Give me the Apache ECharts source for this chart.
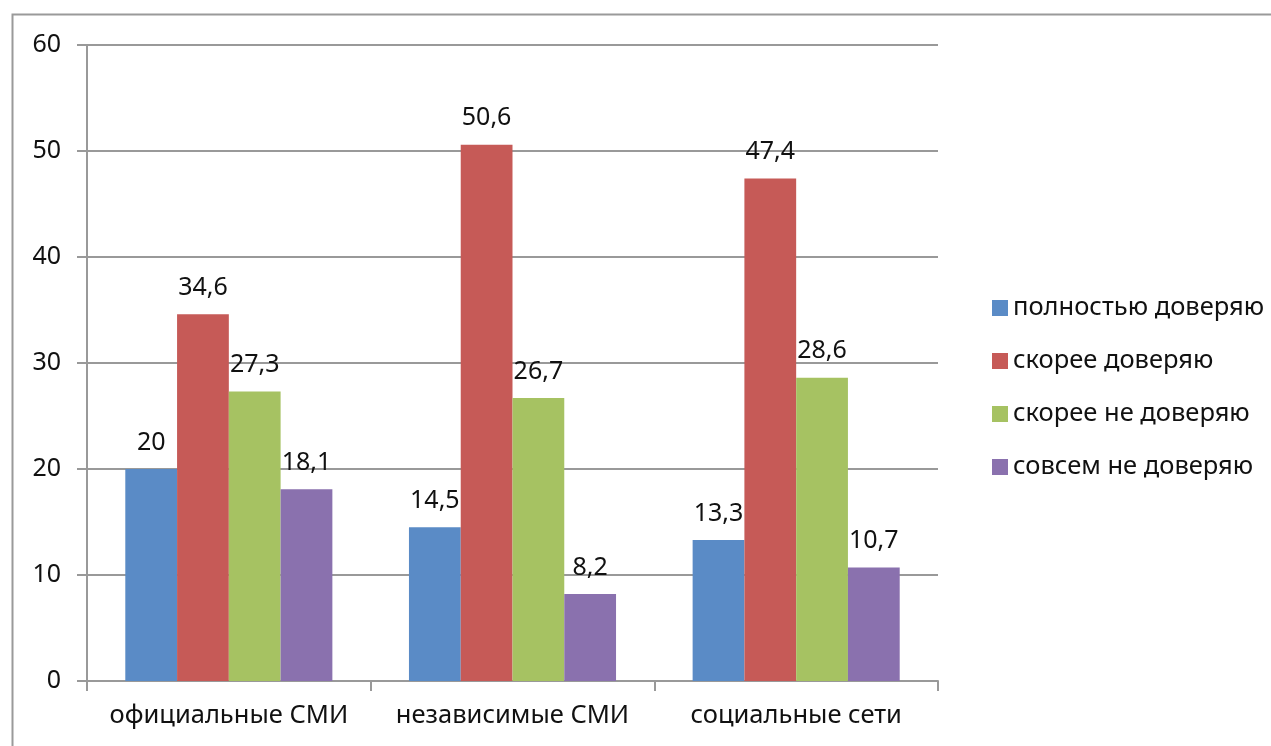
<!DOCTYPE html>
<html lang="ru">
<head>
    <meta charset="UTF-8">
    <title>Доверие СМИ</title>
    <script src="https://cdn.jsdelivr.net/npm/echarts@6.0.0/dist/echarts.min.js"></script>
    <style>
        html, body { margin: 0; padding: 0; background: #fff; }
        #main { width: 1271px; height: 746px; }
    </style>
</head>
<body>
<div id="main"></div>
<script type="text/javascript">
    // data
    const categories = ['официальные СМИ', 'независимые СМИ', 'социальные сети']
    const seriesNames = ['полностью доверяю', 'скорее доверяю', 'скорее не доверяю', 'совсем не доверяю']
    const fullyTrust = [20, 14.5, 13.3]
    const ratherTrust = [34.6, 50.6, 47.4]
    const ratherDistrust = [27.3, 26.7, 28.6]
    const totallyDistrust = [18.1, 8.2, 10.7]
    const colors = ['#5A8BC6', '#C65A57', '#A6C262', '#8A71AE']

    const values = [fullyTrust, ratherTrust, ratherDistrust, totallyDistrust]
    const font = 'Noto Sans, sans-serif'

    var chart = echarts.init(document.getElementById('main'))

    const series = seriesNames.map((name, i) => ({
        name: name,
        type: 'bar',
        data: values[i],
        barGap: '0%',
        barCategoryGap: '27%',
        itemStyle: { color: colors[i] },
        label: {
            show: true,
            position: 'top',
            distance: 14,
            color: '#111',
            fontSize: 25,
            fontFamily: font,
            formatter: p => String(p.value).replace('.', ',')
        }
    }))

    var option = {
        animation: false,
        backgroundColor: '#fff',
        graphic: [{
            type: 'rect',
            left: 10, top: 12,
            shape: { width: 1400, height: 900 },
            style: { fill: 'none', stroke: '#9a9a9a', lineWidth: 2 },
            silent: true
        }],
        grid: { left: 87, right: 333, top: 45, bottom: 65 },
        legend: {
            orient: 'vertical',
            left: 987,
            top: 290,
            itemWidth: 16,
            itemHeight: 16,
            itemGap: 27,
            icon: 'rect',
            textStyle: { fontSize: 25.5, fontFamily: font, color: '#111', lineHeight: 26 },
            data: seriesNames
        },
        xAxis: {
            type: 'category',
            data: categories,
            axisLine: { lineStyle: { color: '#999', width: 2 } },
            axisTick: { show: true, length: 10, lineStyle: { color: '#999', width: 2 } },
            axisLabel: { interval: 0, hideOverlap: false, fontSize: 25.5, fontFamily: font, color: '#111', margin: 22 }
        },
        yAxis: {
            type: 'value',
            min: 0, max: 60, interval: 10,
            axisLine: { show: true, lineStyle: { color: '#999', width: 2 } },
            axisTick: { show: true, length: 10, lineStyle: { color: '#999', width: 2 } },
            splitLine: { lineStyle: { color: '#999', width: 2 } },
            axisLabel: { fontSize: 25, fontFamily: font, color: '#111', margin: 26 }
        },
        series: series
    }

    chart.setOption(option)
</script>
</body>
</html>
